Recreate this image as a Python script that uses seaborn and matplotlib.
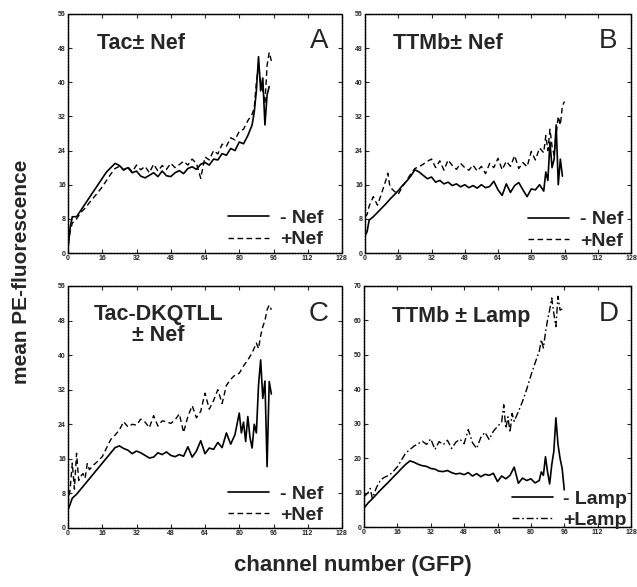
import numpy as np
import pandas as pd
import matplotlib
matplotlib.use("Agg")
import matplotlib.pyplot as plt
from matplotlib.lines import Line2D
import seaborn as sns

sns.set_style("ticks")
plt.rcParams['font.family'] = ['Liberation Sans', 'DejaVu Sans']

# ---------------- data (channel number -> mean PE fluorescence) ----------------
# Panel A: Tac +/- Nef
a_minus_x = [0, 1, 2] + list(range(4, 87, 2)) + [87, 88, 89, 90, 91, 92, 93, 94]
a_minus_y = [1, 6, 8.5,
             8.5, 10, 11.5, 13, 14.5, 16, 17.5, 19, 20, 21,
             20.5, 19.5, 20, 18.8, 19.2, 18, 17.6, 18.2, 18.8, 17.9,
             19.2, 18.1, 17.9, 18.8, 19.3, 18.6, 19.8, 20.2, 19.6, 20.8,
             21.2, 20.6, 22, 21.8, 23.3, 22.9, 24.5, 24, 26, 25.6,
             27.5, 30,
             33, 38, 46, 38, 41, 30, 37, 39]
a_plus_x = [0, 1, 2] + list(range(4, 87, 2)) + [87, 88, 89, 90, 91, 92, 93, 94, 95]
a_plus_y = [2, 5, 7,
            8, 9.5, 10.5, 11.8, 13, 14.2, 15.5, 17, 18.5, 19.8,
            20.3, 19.4, 20.2, 19, 20.6, 19.5, 20.3, 18.8, 20.8, 19.2,
            20.5, 19.6, 21, 20, 20.7, 21.5, 20.6, 22, 21, 17.5,
            22.5, 21.8, 24, 23.2, 25.5, 25, 27, 26.5, 28.5, 29,
            31, 32.5,
            34, 40, 44, 40, 38, 35, 44, 47, 45]

# Panel B: TTMb +/- Nef
b_minus_x = [0, 1, 2] + list(range(4, 87, 2)) + [87, 88, 89, 90, 91, 92, 93, 94, 95]
b_minus_y = [4, 5, 7.7,
             8.5, 9.5, 10.5, 11.5, 12.6, 13.6, 14.6, 15.8, 16.8, 18,
             19.5, 19, 18.2, 17.4, 17.8, 16.6, 17, 16.2, 16.6, 15.8,
             16.2, 15.5, 16, 15.3, 15.8, 15.2, 16, 15.3, 15.6, 16.8,
             14.8, 13.5, 16.2, 14.2, 15.8, 16.5, 14.8, 13.2, 15, 14.8,
             16, 14.5,
             19, 17, 26, 20, 22, 30, 16, 22, 18]
b_plus_x = [0, 1, 2, 4, 6, 8, 10, 11, 12] + list(range(14, 87, 2)) + list(range(87, 97))
b_plus_y = [8.5, 9, 11, 13.2, 11.2, 14, 17, 18.7, 15.5,
            14.5, 13.8, 15.5, 17, 18.5, 19.8, 20.2, 20.8, 21.5, 22,
            20, 21.6, 19.4, 21.8, 20.5, 19.6, 21, 20, 19.4, 20.6,
            19.2, 20.3, 18.6, 21, 20, 22.2, 19.5, 21.5, 20.3, 22.8,
            19.8, 21.2, 20.2, 23.8, 21.8, 24.6, 23.5,
            27.5, 24, 29, 25, 23, 28, 32, 30, 34.5, 35.5]

# Panel C: Tac-DKQTLL +/- Nef
c_minus_x = [0, 1, 2] + list(range(4, 79, 2)) + list(range(80, 96))
c_minus_y = [4.2, 5.5, 6.9,
             7.8, 9, 10.2, 11.4, 12.6, 13.8, 15, 16.2, 17.4, 18.6,
             19, 18.4, 18, 17.2, 17.8, 17.4, 16.8, 16.2, 16.4, 17.4,
             17, 17.6, 16.8, 16.5, 17, 16.6, 18.8, 16.4, 17.8, 20.2,
             17.2, 18.5, 18.2, 19.8, 18.6, 22, 19.4, 21.6,
             26.6, 22, 24.5, 20, 25.8, 21, 18.5, 24, 22, 33, 38.9, 30, 34, 14.2, 33.9, 31]
c_plus_x = list(range(0, 11)) + list(range(12, 89, 2)) + list(range(89, 96))
c_plus_y = [5.5, 9, 15, 9, 17.3, 11, 12, 12.6, 11.5, 14.9, 13.5,
            14.6, 15.5, 16.5, 18.5, 20.5, 21.5, 22.7, 24.6, 23.4, 24,
            23.8, 25.2, 24.5, 23.2, 26, 23.6, 24.8, 24.6, 24.2, 25,
            26.4, 22.1, 25.8, 28.3, 25.5, 27, 31.2, 27.5, 29.5, 32,
            28.8, 33, 34.4, 35.4, 35.8, 37.5, 38.9, 40.5, 42.8,
            41.5, 44.5, 46.6, 48, 50.5, 51.6, 50.5]

# Panel D: TTMb +/- Lamp
d_minus_x = list(range(0, 85, 2)) + list(range(85, 97))
d_minus_y = [5.5, 7, 8.2, 9.5, 10.8, 12, 13.2, 14.5, 15.7, 17,
             18.2, 19.2, 18.8, 18.2, 17.8, 17.6, 17, 16.8, 16.2, 16.1,
             16.4, 15.8, 15.4, 15.6, 15.2, 15.8, 14.8, 15.5, 14.6, 15.3,
             15, 15.6, 13.2, 14.8, 14, 15, 17.4, 12.7, 14.2, 13.5,
             14, 12.8, 13.5,
             16, 15, 20.4, 16, 12.5, 18, 22, 31.7, 24, 19.9, 17, 10.8]
d_plus_x = [0, 2, 3] + list(range(4, 67, 2)) + [67, 68, 69, 70, 71, 72] + list(range(74, 85, 2)) + list(range(85, 96))
d_plus_y = [8.8, 10, 11.2,
            8.3, 11.5, 13.7, 14.5, 15, 16.1, 17.5, 19.5, 21.5, 22.5,
            23.5, 24.2, 24.9, 24, 25.6, 22.5, 24.8, 23.9, 25.2, 22.8,
            24.6, 25.5, 24.2, 28.3, 24.5, 22.8, 26, 27.5, 25.4, 27.8,
            29.2, 30.5,
            35.5, 28.6, 32, 27.5, 33, 30.7,
            33.5, 36.5, 40, 44, 47.6, 51,
            54.4, 52, 56.5, 60.2, 63, 66.5, 62, 58.2, 67, 63, 63.3]

x_ticks = [0, 16, 32, 48, 64, 80, 96, 112, 128]
y_ticks_abc = [0, 8, 16, 24, 32, 40, 48, 56]
y_ticks_d = [0, 10, 20, 30, 40, 50, 60, 70]

panels = [
    dict(pos=[68, 14, 342, 253], letter="A", title="Tac\u00b1 Nef",
         minus=(a_minus_x, a_minus_y), plus=(a_plus_x, a_plus_y),
         labels=["- Nef", "+Nef"], yticks=y_ticks_abc, plus_style="dash",
         leg=(0.945, 0.003)),
    dict(pos=[365, 14, 631, 253], letter="B", title="TTMb\u00b1 Nef",
         minus=(b_minus_x, b_minus_y), plus=(b_plus_x, b_plus_y),
         labels=["- Nef", "+Nef"], yticks=y_ticks_abc, plus_style="dash",
         leg=(0.985, -0.003)),
    dict(pos=[68, 286, 342, 528], letter="C", title="Tac-DKQTLL\n\u00b1 Nef",
         minus=(c_minus_x, c_minus_y), plus=(c_plus_x, c_plus_y),
         labels=["- Nef", "+Nef"], yticks=y_ticks_abc, plus_style="dash",
         leg=(0.945, 0.0)),
    dict(pos=[364, 286, 631, 527], letter="D", title="TTMb \u00b1 Lamp",
         minus=(d_minus_x, d_minus_y), plus=(d_plus_x, d_plus_y),
         labels=["- Lamp", "+Lamp"], yticks=y_ticks_d, plus_style="dashdot",
         leg=(1.0, -0.025)),
]

W, H = 637, 587
fig = plt.figure(figsize=(W / 100, H / 100), dpi=100)

dash_seq = {"dash": (4, 2.5), "dashdot": (5, 2, 1.2, 2)}

for p in panels:
    l, t, r, b = p["pos"]
    ax = fig.add_axes([l / W, 1 - b / H, (r - l) / W, (b - t) / H])
    mx, my = p["minus"]
    px, py = p["plus"]
    sns.lineplot(x=mx, y=my, ax=ax, color="black", linewidth=1.2, estimator=None)
    sns.lineplot(x=px, y=py, ax=ax, color="black", linewidth=1.0, estimator=None,
                 dashes=False)
    ax.lines[-1].set_dashes(dash_seq[p["plus_style"]])
    ax.set_xlim(0, 128)
    ax.set_ylim(0, p["yticks"][-1])
    ax.set_xticks(x_ticks)
    ax.set_yticks(p["yticks"])
    ax.set_xticklabels([str(v) for v in x_ticks], fontsize=5, fontweight="bold")
    ax.set_yticklabels([str(v) for v in p["yticks"]], fontsize=5, fontweight="bold")
    ax.tick_params(direction="in", length=3, width=0.8, pad=1.5,
                   top=True, right=True)
    for s in ax.spines.values():
        s.set_visible(True)
        s.set_linewidth(1.0)
        s.set_linestyle((0, (1.5, 0.6)))
        s.set_color("black")
    ax.set_xlabel("")
    ax.set_ylabel("")
    if "\n" in p["title"]:
        ax.text(0.33, 0.925, p["title"], transform=ax.transAxes, ha="center",
                va="top", fontsize=15.5, fontweight="bold", linespacing=1.0)
    else:
        ax.text(0.105, 0.875, p["title"], transform=ax.transAxes, ha="left",
                va="center", fontsize=15.5, fontweight="bold")
    ax.text(0.915, 0.885, p["letter"], transform=ax.transAxes, ha="center",
            va="center", fontsize=20)
    handles = [Line2D([], [], color="black", linewidth=1.2),
               Line2D([], [], color="black", linewidth=1.0,
                      dashes=dash_seq[p["plus_style"]])]
    ax.legend(handles, p["labels"], loc="lower right", frameon=False,
              bbox_to_anchor=p["leg"], handlelength=2.1, handletextpad=0.55,
              labelspacing=0.2, borderaxespad=0.0, borderpad=0.2,
              prop=dict(size=14, weight="bold"))

fig.text(22 / W, 1 - 272 / H, "mean PE-fluorescence", rotation=90,
         ha="center", va="center", fontsize=15, fontweight="bold")
fig.text(353 / W, 1 - 566 / H, "channel number (GFP)", ha="center",
         va="center", fontsize=16, fontweight="bold")

fig.savefig("out.png", dpi=100)
